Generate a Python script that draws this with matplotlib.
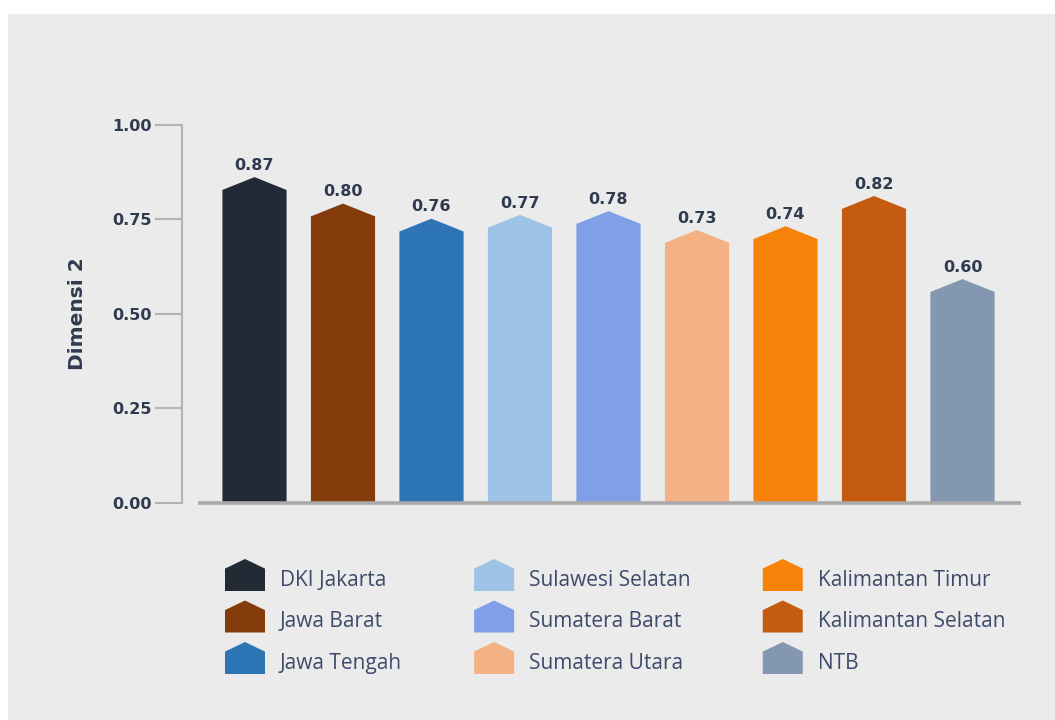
import matplotlib
matplotlib.use("Agg")
import matplotlib.pyplot as plt
from matplotlib.patches import Polygon, Rectangle
from matplotlib.legend_handler import HandlerPatch

# ---- data ----
provinces = ["DKI Jakarta", "Jawa Barat", "Jawa Tengah", "Sulawesi Selatan",
             "Sumatera Barat", "Sumatera Utara", "Kalimantan Timur",
             "Kalimantan Selatan", "NTB"]
values = [0.87, 0.80, 0.76, 0.77, 0.78, 0.73, 0.74, 0.82, 0.60]
colors = ["#222a35", "#843c0c", "#2e75b6", "#9dc3e6", "#809fe9",
          "#f4b183", "#f7820a", "#c55a11", "#8497b0"]
yticks = [0.00, 0.25, 0.50, 0.75, 1.00]
ytick_labels = ["0.00", "0.25", "0.50", "0.75", "1.00"]
ylabel = "Dimensi 2"

# ---- style ----
BG = "#ebebeb"
AXIS_GRAY = "#b4b4b4"
DARK = "#2f3a4f"
LEGEND_TXT = "#3d4a6b"
W, H, DPI = 1055, 720, 100
BOLD_FONT = "DejaVu Sans"

fig = plt.figure(figsize=(W / DPI, H / DPI), dpi=DPI)
fig.patch.set_facecolor("white")
fig.patches.append(Rectangle((8 / W, 0), 1 - 8 / W, (H - 14) / H,
                             transform=fig.transFigure, facecolor=BG,
                             edgecolor="none", zorder=-10))

ax = fig.add_axes([182 / W, (H - 502.7) / H, (1021 - 182) / W, (502.7 - 125) / H])
ax.set_facecolor("none")

bar_w = 0.725
roof = 0.034
peak_off = 0.008
for i, (v, c) in enumerate(zip(values, colors)):
    top = v - peak_off
    sh = top - roof
    pts = [(i - bar_w / 2, 0), (i - bar_w / 2, sh), (i, top),
           (i + bar_w / 2, sh), (i + bar_w / 2, 0)]
    ax.add_patch(Polygon(pts, closed=True, facecolor=c, edgecolor="none",
                         label=provinces[i], zorder=2))
    ax.annotate(f"{v:.2f}", xy=(i, top), xytext=(0, 8.5), textcoords="offset points",
                ha="center", va="center", fontsize=11.5, fontweight="bold",
                family=BOLD_FONT, color=DARK, annotation_clip=False)

x_left = -0.819
x_right = 8.661
ax.set_xlim(x_left, x_right)
ax.set_ylim(0, 1.0)

# baseline
ax.plot([-0.638, x_right], [0, 0], color="#aaaaaa", lw=2.6, zorder=3,
        solid_capstyle="butt", clip_on=False)

for s in ["top", "right", "bottom"]:
    ax.spines[s].set_visible(False)
ax.spines["left"].set_color(AXIS_GRAY)
ax.spines["left"].set_linewidth(1.5)
ax.set_xticks([])
ax.set_yticks(yticks)
ax.set_yticklabels(ytick_labels)
ax.tick_params(axis="y", length=19.5, width=1.5, color=AXIS_GRAY, pad=2,
               labelsize=11.5, labelcolor=DARK)
for t in ax.get_yticklabels():
    t.set_fontweight("bold")
    t.set_family(BOLD_FONT)

ax.set_ylabel(ylabel, fontsize=14.5, fontweight="bold", color=DARK, family=BOLD_FONT)
ax.yaxis.label.set(va="center", ha="center")
ax.yaxis.set_label_coords(-0.124, 0.5)

SHIFT_UP = 4 * 72 / DPI  # raise icons relative to text


class HouseHandler(HandlerPatch):
    def create_artists(self, legend, orig_handle, xdescent, ydescent, width,
                       height, fontsize, trans):
        x0, y0 = -xdescent, -ydescent + SHIFT_UP
        sh = y0 + height * 0.70
        pts = [(x0, y0), (x0, sh), (x0 + width / 2, y0 + height),
               (x0 + width, sh), (x0 + width, y0)]
        p = Polygon(pts, closed=True, facecolor=orig_handle.get_facecolor(),
                    edgecolor="none", transform=trans)
        return [p]


handles = [p for p in ax.patches]
fs = 15
fpx = fs * DPI / 72
leg = fig.legend(handles=handles, labels=provinces, ncol=3,
                 loc="upper left", bbox_to_anchor=(225 / W, (H - 563) / H),
                 frameon=False, fontsize=fs, borderpad=0, borderaxespad=0,
                 handlelength=40 / fpx, handleheight=(32 / fpx - 0.245) / 0.65,
                 handletextpad=15 / fpx,
                 columnspacing=72 / fpx,
                 labelspacing=9.5 / fpx,
                 prop={"family": "Open Sans", "size": fs},
                 handler_map={Polygon: HouseHandler()})
for t in leg.get_texts():
    t.set_color(LEGEND_TXT)

fig.savefig("out.png", dpi=DPI)
